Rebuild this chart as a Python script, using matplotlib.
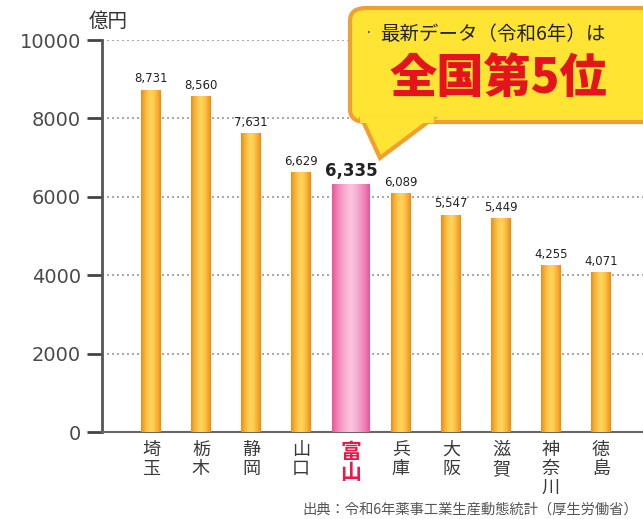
import matplotlib.pyplot as plt
import numpy as np
from matplotlib.patches import FancyBboxPatch, Polygon

plt.rcParams['font.family'] = ['Noto Sans CJK JP', 'DejaVu Sans']

prefectures = ['埼玉', '栃木', '静岡', '山口', '富山', '兵庫', '大阪', '滋賀', '神奈川', '徳島']
values = [8731, 8560, 7631, 6629, 6335, 6089, 5547, 5449, 4255, 4071]
highlight = '富山'
yticks = [0, 2000, 4000, 6000, 8000, 10000]

W, H = 643, 519
fig = plt.figure(figsize=(W / 100, H / 100), dpi=100)
ax = fig.add_axes([102 / W, 1 - 432 / H, 1 - 102 / W, (432 - 40) / H])


def px(x, y):
    return (x / W, 1 - y / H)


# horizontal gradient images used to shade the bars
grad = np.linspace(-1, 1, 64)
shade = 1 - np.abs(grad) ** 1.5


def gradient_img(c_edge, c_mid):
    c_edge = np.array(plt.matplotlib.colors.to_rgb(c_edge))
    c_mid = np.array(plt.matplotlib.colors.to_rgb(c_mid))
    img = c_edge[None, :] + (c_mid - c_edge)[None, :] * shade[:, None]
    return img[None, :, :]


orange_img = gradient_img('#ee8a12', '#ffd45a')
pink_img = gradient_img('#e8579c', '#fbc0dc')

xs = np.arange(len(prefectures))
for x, p, v in zip(xs, prefectures, values):
    hl = p == highlight
    w = 0.76 if hl else 0.40
    bar = ax.bar(x, v, width=w, color='#f5a623', zorder=3)[0]
    im = ax.imshow(pink_img if hl else orange_img, extent=(x - w / 2, x + w / 2, 0, v),
                   aspect='auto', zorder=4)
    im.set_clip_path(bar)
    label = f'{v:,}'
    if hl:
        ax.text(x, v + 100, label, ha='center', va='bottom', fontsize=12,
                fontweight='bold', color='#222', family='DejaVu Sans', zorder=5)
    else:
        ax.text(x, v + 110, label, ha='center', va='bottom', fontsize=8.5,
                color='#222', family='DejaVu Sans', zorder=5)
    ax.text(x, -230, '\n'.join(p), ha='center', va='top',
            fontsize=15 if hl else 13, linespacing=1.0 if hl else 1.05,
            color='#e8194b' if hl else '#3a3a3a',
            fontweight='bold' if hl else 'normal', zorder=5)

ax.set_xlim(-0.98, 9.84)
ax.set_ylim(0, 10000)
ax.set_yticks(yticks)
ax.set_yticklabels([str(t) for t in yticks], family='DejaVu Sans', fontsize=14, color='#4a4a4a')
ax.set_xticks([])
ax.tick_params(axis='y', direction='out', length=11, width=2, color='#444', pad=4)
for t in yticks[1:]:
    ax.axhline(t, color='#999', linestyle=(0, (1.2, 1.8)), linewidth=1.2, zorder=1)
for s in ['top', 'right']:
    ax.spines[s].set_visible(False)
ax.spines['left'].set_color('#555')
ax.spines['left'].set_linewidth(2)
ax.spines['bottom'].set_color('#666')
ax.spines['bottom'].set_linewidth(1.5)
ax.set_facecolor('none')

fig.text(*px(89, 21), '億円', fontsize=14, color='#333', va='center', ha='left')

# callout bubble
bx0, by0 = px(350, 122)
bx1, by1 = px(670, 8)
bubble = FancyBboxPatch((bx0, by0), bx1 - bx0, by1 - by0,
                        boxstyle='round,pad=0,rounding_size=0.025',
                        transform=fig.transFigure, facecolor='#ffe433',
                        edgecolor='#f0a030', linewidth=3, zorder=10)
fig.add_artist(bubble)
tail = Polygon([px(362, 119), px(380, 158), px(432, 119)], closed=True,
               transform=fig.transFigure, facecolor='#ffe433', edgecolor='#f0a030',
               linewidth=3, zorder=11)
fig.add_artist(tail)
seam = Polygon([px(360, 117), px(434, 117), px(434, 123), px(360, 123)], closed=True,
               transform=fig.transFigure, facecolor='#ffe433', edgecolor='none', zorder=12)
fig.add_artist(seam)
fig.text(*px(368, 33), '·', fontsize=10, color='#333', ha='center', va='center', zorder=13)
fig.text(*px(380, 34), '最新データ（令和6年）は', fontsize=14, color='#222',
         ha='left', va='center', zorder=13)
fig.text(*px(498, 79), '全国第5位', fontsize=34, color='#e3141b', fontweight='heavy',
         ha='center', va='center', zorder=13)

fig.text(*px(638, 510), '出典：令和6年薬事工業生産動態統計（厚生労働省）', fontsize=10.3,
         color='#555', ha='right', va='center')

fig.savefig('out.png', dpi=100)
